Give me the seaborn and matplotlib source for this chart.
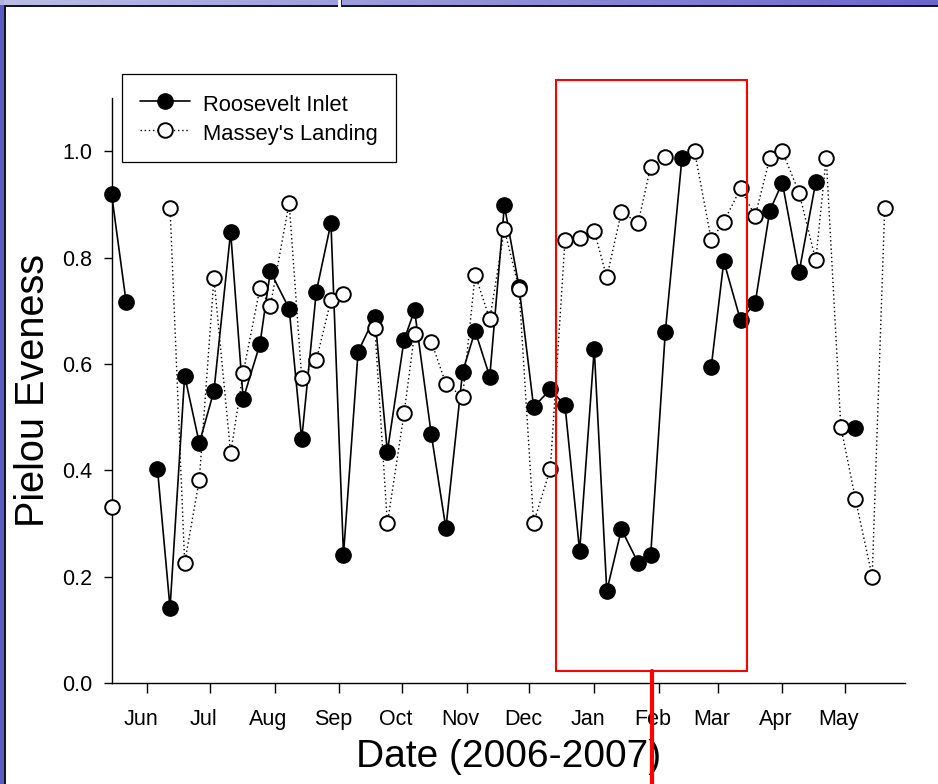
import numpy as np
import pandas as pd
import matplotlib
matplotlib.use("Agg")
import matplotlib.pyplot as plt
import matplotlib.dates as mdates
import seaborn as sns
from matplotlib.lines import Line2D
from matplotlib.patches import Rectangle

# ---------------- data ----------------
ri_dates = ["2006-05-15", "2006-05-22", "2006-05-29", "2006-06-06", "2006-06-12", "2006-06-19",
            "2006-06-26", "2006-07-03", "2006-07-11", "2006-07-17", "2006-07-25", "2006-07-30",
            "2006-08-08", "2006-08-14", "2006-08-21", "2006-08-28", "2006-09-03", "2006-09-10",
            "2006-09-18", "2006-09-24", "2006-10-02", "2006-10-07", "2006-10-15", "2006-10-22",
            "2006-10-30", "2006-11-05", "2006-11-12", "2006-11-19", "2006-11-26", "2006-12-03",
            "2006-12-11", "2006-12-18", "2006-12-25", "2007-01-01", "2007-01-07", "2007-01-14",
            "2007-01-22", "2007-01-28", "2007-02-04", "2007-02-12", "2007-02-18", "2007-02-26",
            "2007-03-04", "2007-03-12", "2007-03-19", "2007-03-26", "2007-04-01", "2007-04-09",
            "2007-04-17", "2007-04-29", "2007-05-06"]
ri_even = [0.920, 0.716, np.nan, 0.402, 0.141, 0.578,
           0.451, 0.549, 0.848, 0.534, 0.637, 0.774,
           0.704, 0.458, 0.736, 0.865, 0.241, 0.623,
           0.689, 0.435, 0.645, 0.701, 0.468, 0.291,
           0.585, 0.662, 0.576, 0.898, 0.745, 0.519,
           0.552, 0.522, 0.248, 0.628, 0.173, 0.289,
           0.226, 0.240, 0.660, 0.988, np.nan, 0.595,
           0.793, 0.682, 0.714, 0.888, 0.941, 0.772,
           0.942, np.nan, 0.480]

ml_dates = ["2006-05-15", "2006-06-06", "2006-06-12", "2006-06-19", "2006-06-26", "2006-07-03",
            "2006-07-11", "2006-07-17", "2006-07-25", "2006-07-30", "2006-08-08", "2006-08-14",
            "2006-08-21", "2006-08-28", "2006-09-03", "2006-09-10", "2006-09-18", "2006-09-24",
            "2006-10-02", "2006-10-07", "2006-10-15", "2006-10-22", "2006-10-30", "2006-11-05",
            "2006-11-12", "2006-11-19", "2006-11-26", "2006-12-03", "2006-12-11", "2006-12-18",
            "2006-12-25", "2007-01-01", "2007-01-07", "2007-01-14", "2007-01-22", "2007-01-28",
            "2007-02-04", "2007-02-18", "2007-02-26", "2007-03-04", "2007-03-12", "2007-03-19",
            "2007-03-26", "2007-04-01", "2007-04-09", "2007-04-17", "2007-04-22", "2007-04-29",
            "2007-05-06", "2007-05-14", "2007-05-20"]
ml_even = [0.331, np.nan, 0.894, 0.226, 0.382, 0.761,
           0.432, 0.583, 0.742, 0.709, 0.903, 0.574,
           0.607, 0.720, 0.732, np.nan, 0.668, 0.300,
           0.507, 0.657, 0.642, 0.563, 0.538, 0.768,
           0.684, 0.853, 0.741, 0.301, 0.403, 0.833,
           0.836, 0.850, 0.763, 0.886, 0.865, 0.971,
           0.989, 1.000, 0.833, 0.867, 0.930, 0.878,
           0.987, 1.000, 0.922, 0.795, 0.988, 0.482,
           0.346, 0.200, 0.893]

series_names = ["Roosevelt Inlet", "Massey's Landing"]
month_starts = pd.date_range("2006-06-01", "2007-05-01", freq="MS")
month_labels = ["Jun", "Jul", "Aug", "Sep", "Oct", "Nov", "Dec", "Jan", "Feb", "Mar", "Apr", "May"]
y_ticks = [0.0, 0.2, 0.4, 0.6, 0.8, 1.0]
x_label = "Date (2006-2007)"
y_label = "Pielou Eveness"


def to_frame(dates, vals, site):
    df = pd.DataFrame({"date": pd.to_datetime(dates), "evenness": vals, "site": site})
    df["segment"] = df["evenness"].isna().cumsum()
    return df.dropna().reset_index(drop=True)


df_ri = to_frame(ri_dates, ri_even, series_names[0])
df_ml = to_frame(ml_dates, ml_even, series_names[1])

# ---------------- style ----------------
sns.set_style("ticks")
plt.rcParams['font.family'] = ['Liberation Sans', 'DejaVu Sans']
plt.rcParams['text.color'] = 'black'
plt.rcParams['axes.labelcolor'] = 'black'
plt.rcParams['xtick.color'] = 'black'
plt.rcParams['ytick.color'] = 'black'

W, H = 938, 784
fig = plt.figure(figsize=(W / 100, H / 100), dpi=100)
fig.patch.set_facecolor('white')

# slide-like background frame (blue strip + dark border)
bg = np.ones((H, W, 3))
xs = np.linspace(0, 1, W)
top = np.stack([0.74 - 0.32 * xs, 0.74 - 0.34 * xs, 0.90 - 0.10 * xs], axis=1)
bg[0:5, :, :] = top[None, :, :]
bg[:, 0:4, :] = np.array([0.36, 0.36, 0.76])
bg[0:5, 0:4, :] = np.array([0.70, 0.70, 0.88])
bg[5:7, 4:, :] = np.array([0.08, 0.08, 0.14])
bg[5:, 4:6, :] = np.array([0.08, 0.08, 0.14])
bg[0:7, 338:341, :] = 1.0
bg[0:7, 341:342, :] = np.array([0.15, 0.15, 0.2])
fig.figimage(bg, xo=0, yo=0, origin='upper', zorder=-5)

left, right, bottom, topy = 111.7, 905.0, 683.0, 98.0
ax = fig.add_axes([left / W, 1 - bottom / H, (right - left) / W, (bottom - topy) / H])
ax.set_facecolor('none')
ax.set_zorder(2)

sns.lineplot(data=df_ri, x="date", y="evenness", units="segment", estimator=None,
             color="black", lw=1.2, marker="o", markersize=11,
             markerfacecolor="black", markeredgecolor="black", markeredgewidth=1.0,
             clip_on=False, legend=False, ax=ax, zorder=3)
sns.lineplot(data=df_ml, x="date", y="evenness", units="segment", estimator=None,
             color="black", lw=1.0, linestyle=(0, (1, 2)), marker="o", markersize=10.5,
             markerfacecolor="white", markeredgecolor="black", markeredgewidth=1.4,
             clip_on=False, legend=False, ax=ax, zorder=4)

ax.set_xlim(pd.Timestamp("2006-05-15 02:00"), pd.Timestamp("2007-05-29 17:00"))
ax.set_ylim(0, 1.1)

major = mdates.date2num(month_starts.to_pydatetime())
ax.set_xticks(major)
ax.set_xticklabels([])
ax.set_xticks(major - 3.0, minor=True)
ax.set_xticklabels(month_labels, minor=True)
ax.tick_params(axis='x', which='major', direction='out', length=7, width=1.0)
ax.tick_params(axis='x', which='minor', length=0, pad=18.5, labelsize=15.5)
ax.set_yticks(y_ticks)
ax.set_yticklabels([f"{v:.1f}" for v in y_ticks])
ax.tick_params(axis='y', direction='out', length=6, width=1.0, pad=8, labelsize=15.5)

for s in ["top", "right"]:
    ax.spines[s].set_visible(False)
for s in ["left", "bottom"]:
    ax.spines[s].set_linewidth(1.0)
    ax.spines[s].set_color("black")

ax.set_xlabel(x_label, fontsize=28, va='center')
ax.set_ylabel(y_label, fontsize=28.5, va='center')
ax.xaxis.set_label_coords(0.5, -74 / 585)
ax.yaxis.set_label_coords((33 - left) / (right - left), 0.5)

handles = [
    Line2D([], [], color='black', lw=1.2, marker='o', ms=11, mfc='black', mec='black'),
    Line2D([], [], color='black', lw=1.0, ls=(0, (1, 2)), marker='o', ms=10.5,
           mfc='white', mec='black', mew=1.4),
]
leg = fig.legend(handles=handles, labels=series_names, loc='upper left',
                 bbox_to_anchor=(122 / W, 1 - 74 / H), frameon=True, fancybox=False,
                 edgecolor='black', framealpha=1, fontsize=15.8, handlelength=2.3,
                 handleheight=1.3, handletextpad=0.6, borderpad=0.8, labelspacing=0.2,
                 borderaxespad=0)
leg.get_frame().set_linewidth(0.9)
leg.set_zorder(5)

# red highlight annotations
fig.add_artist(Rectangle((555.7 / W, 1 - 671 / H), (747.3 - 555.7) / W, (671 - 80) / H,
                         transform=fig.transFigure, fill=False, ec='#ff0000', lw=1.5, zorder=10))
fig.add_artist(Line2D([651.7 / W, 651.7 / W], [1 - 671 / H, 0], transform=fig.transFigure,
                      color='#ff0000', lw=3.0, zorder=10))

fig.savefig("out.png", dpi=100)
